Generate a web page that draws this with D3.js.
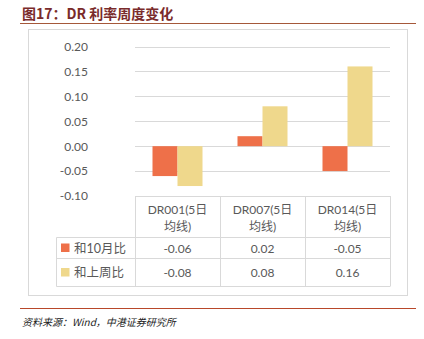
<!DOCTYPE html>
<html>
<head>
<meta charset="utf-8">
<script src="https://cdn.jsdelivr.net/npm/d3@7/dist/d3.min.js"></script>
<style>
  html, body { margin: 0; padding: 0; background: #fff; }
  svg { display: block; }
</style>
</head>
<body>
<svg id="chart" width="424" height="339"></svg>
<script>
// Data
const categories = ["DR001(5日均线)", "DR007(5日均线)", "DR014(5日均线)"];
const headerLine1 = ["DR001(5日", "DR007(5日", "DR014(5日"];
const headerLine2 = ["均线)", "均线)", "均线)"];
const seriesNames = ["和10月比", "和上周比"];
const vsOctober = [-0.06, 0.02, -0.05];
const vsLastWeek = [-0.08, 0.08, 0.16];
const yTicks = [-0.10, -0.05, 0.00, 0.05, 0.10, 0.15, 0.20];
const seriesColors = ["#EE7049", "#EFD88C"];

const seriesValues = [vsOctober, vsLastWeek];
const font = "Lato, 'Noto Sans CJK SC', sans-serif";
const gray = "#595959";
const lineGray = "#D9D9D9";
// two decimals, plain hyphen for negatives
const fmt = v => d3.format(".2f")(v).replace("\u2212", "-");

const svg = d3.select("#chart");

// Title
svg.append("text")
  .attr("x", 22).attr("y", 19)
  .attr("font-family", "'Noto Sans CJK SC', sans-serif")
  .attr("font-weight", "bold")
  .attr("font-size", 14)
  .attr("fill", "#7A2B2B")
  .text("图17：DR 利率周度变化");
svg.append("line")
  .attr("x1", 20).attr("x2", 416).attr("y1", 23.5).attr("y2", 23.5)
  .attr("stroke", "#A5583A").attr("stroke-width", 1);

// Chart frame
svg.append("rect")
  .attr("x", 28.5).attr("y", 29.5).attr("width", 379).attr("height", 266)
  .attr("fill", "#fff").attr("stroke", "#D9D9D9").attr("stroke-width", 1);

// Scales
const plotLeft = 135, plotRight = 390;
const x0 = d3.scaleBand().domain(categories).range([plotLeft, plotRight]).padding(0);
const x1 = d3.scaleBand().domain(seriesNames)
  .range([17.5, x0.bandwidth() - 17.5]).padding(0);
const y = d3.scaleLinear().domain([-0.1, 0.2]).range([196, 46.5]);

// Gridlines
const grid = svg.append("g");
grid.selectAll("line").data(yTicks).join("line")
  .attr("x1", plotLeft).attr("x2", plotRight)
  .attr("y1", d => Math.round(y(d)) + 0.5).attr("y2", d => Math.round(y(d)) + 0.5)
  .attr("stroke", lineGray).attr("stroke-width", 1);

// Y axis labels
const yAxis = svg.append("g")
  .attr("transform", "translate(" + plotLeft + ",0)")
  .call(d3.axisLeft(y).tickValues(yTicks).tickFormat(fmt).tickSize(0).tickPadding(47));
yAxis.select(".domain").remove();
yAxis.selectAll("text")
  .attr("font-family", font).attr("font-size", 12).attr("fill", gray);

// Bars
const groups = svg.append("g").selectAll("g").data(categories).join("g")
  .attr("transform", d => "translate(" + x0(d) + ",0)");
groups.selectAll("rect")
  .data((d, i) => seriesNames.map((s, j) => ({ s, j, v: seriesValues[j][i] })))
  .join("rect")
  .attr("x", d => x1(d.s))
  .attr("width", x1.bandwidth())
  .attr("y", d => y(Math.max(0, d.v)))
  .attr("height", d => Math.abs(y(d.v) - y(0)))
  .attr("fill", d => seriesColors[d.j]);

// Data table
const tableTop = 196, headerBottom = 237.5, row1Bottom = 258.5, row2Bottom = 286.5;
const tableLeft = 56.5;
const table = svg.append("g").attr("stroke", lineGray).attr("stroke-width", 1);
table.append("line").attr("x1", plotLeft).attr("x2", plotRight).attr("y1", tableTop + 0.5).attr("y2", tableTop + 0.5);
[headerBottom, row1Bottom, row2Bottom].forEach(yy => {
  table.append("line").attr("x1", tableLeft).attr("x2", plotRight).attr("y1", yy).attr("y2", yy);
});
const vx = [plotLeft].concat(categories.map(c => x0(c) + x0.bandwidth()));
vx.forEach(xx => {
  table.append("line").attr("x1", Math.round(xx) + 0.5).attr("x2", Math.round(xx) + 0.5)
    .attr("y1", tableTop).attr("y2", row2Bottom);
});
table.append("line").attr("x1", tableLeft).attr("x2", tableLeft)
  .attr("y1", headerBottom).attr("y2", row2Bottom);

// Header text
const hdr = svg.append("g").attr("font-family", font).attr("font-size", 12)
  .attr("fill", gray).attr("text-anchor", "middle");
categories.forEach((c, i) => {
  const cx = x0(c) + x0.bandwidth() / 2;
  hdr.append("text").attr("x", cx).attr("y", 213.5).text(headerLine1[i]);
  hdr.append("text").attr("x", cx).attr("y", 231).text(headerLine2[i]);
});

// Rows: legend key, series name, values
const rowCenters = [248, 272.5];
seriesNames.forEach((s, j) => {
  const cy = rowCenters[j];
  svg.append("rect").attr("x", 61).attr("y", cy - 4.5).attr("width", 8.5).attr("height", 8.5)
    .attr("fill", seriesColors[j]);
  svg.append("text").attr("x", 74).attr("y", cy + 4.5)
    .attr("font-family", font).attr("font-size", 12.5).attr("fill", gray).text(s);
  categories.forEach((c, i) => {
    svg.append("text").attr("x", x0(c) + x0.bandwidth() / 2).attr("y", cy + 4.5)
      .attr("text-anchor", "middle")
      .attr("font-family", font).attr("font-size", 12).attr("fill", gray)
      .text(fmt(seriesValues[j][i]));
  });
});

// Footer
svg.append("line")
  .attr("x1", 20).attr("x2", 416).attr("y1", 308.5).attr("y2", 308.5)
  .attr("stroke", "#B8472A").attr("stroke-width", 1.2);
svg.append("text")
  .attr("x", 22).attr("y", 326)
  .attr("font-family", "'Noto Sans CJK SC', sans-serif")
  .attr("font-size", 10).attr("font-style", "italic").attr("fill", "#222")
  .text("资料来源：Wind，中港证券研究所");
</script>
</body>
</html>
